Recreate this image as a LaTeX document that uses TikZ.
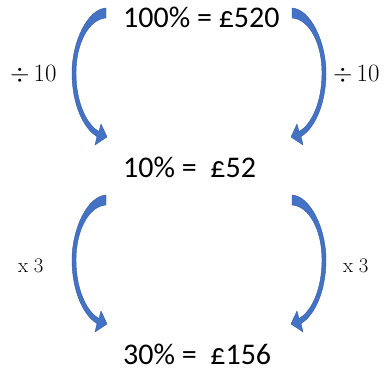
\documentclass[tikz,border=0pt]{standalone}
\usepackage[no-math]{fontspec}
\setmainfont{Carlito}
\usepackage{tikz}

\definecolor{arrowblue}{RGB}{68,114,196}
\definecolor{arrowedge}{RGB}{50,90,165}

\tikzset{
  amount/.style={anchor=base west, inner sep=0pt, font=\fontsize{30}{36}\selectfont},
  oplabel/.style={anchor=base west, inner sep=0pt, font=\fontsize{24}{28}\selectfont},
  timeslabel/.style={anchor=base west, inner sep=0pt, font=\fontsize{22}{26}\selectfont},
  bendarrow/.pic={
    \fill[arrowblue, draw=arrowedge, line width=0.4pt, line join=round]
      (0,-5) .. controls (-18,-4) and (-34,28) .. (-34,60)
      .. controls (-34,92) and (-22,116) .. (-9,123.5)
      -- (-11,132) -- (1,124) -- (-5,111) -- (-7,118.5)
      .. controls (-19,112) and (-30,90) .. (-30,60)
      .. controls (-30,30) and (-17,6) .. (0,5) -- cycle;
  }
}

\begin{document}
\begin{tikzpicture}[x=1pt, y=-1pt]
        \useasboundingbox (0,0) rectangle (385,371);

        \node[amount] (t100) at (123,28) {100\% = £520};
        \node[amount] (t10) at (123,178) {10\% = \ £52};
        \node[amount] (t30) at (123,364) {30\% = \ £156};

        \node[oplabel] (d1) at (10,82) {$\div\,10$};
        \node[oplabel] (d2) at (333,82) {$\div\,10$};
        \node[timeslabel] (m1) at (18,272) {$\mathrm{x}\;3$};
        \node[timeslabel] (m2) at (343,272) {$\mathrm{x}\;3$};

        % ends of the curved arrows
        \coordinate (a1) at (106,13);
        \coordinate (a2) at (292,13);
        \coordinate (a3) at (106,200);
        \coordinate (a4) at (292,200);

        \pic at (a1) {bendarrow};
        \pic[xscale=-1] at (a2) {bendarrow};
        \pic at (a3) {bendarrow};
        \pic[xscale=-1] at (a4) {bendarrow};
    \end{tikzpicture}
\end{document}
